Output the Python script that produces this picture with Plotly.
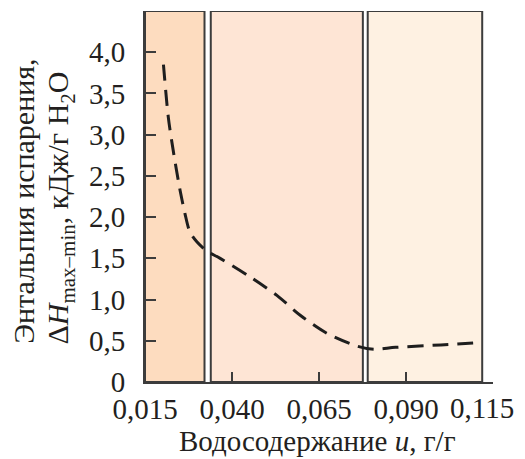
import plotly.graph_objects as go

# Water content u (g/g) and evaporation enthalpy ΔH (kJ/g H2O)
u = [0.0203, 0.0217, 0.0231, 0.0251, 0.0265, 0.0279, 0.0299, 0.0327, 0.0366,
     0.0452, 0.0529, 0.0596, 0.0673, 0.0759, 0.0807, 0.0870, 0.1000, 0.1113]
dH = [3.85, 3.21, 2.81, 2.32, 2.04, 1.82, 1.70, 1.59, 1.50,
      1.275, 1.05, 0.81, 0.59, 0.436, 0.396, 0.42, 0.45, 0.48]

# Moisture zones: (start, end, fill)
zone_start = [0.015, 0.0339, 0.0790]
zone_end = [0.0321, 0.0776, 0.1119]
zone_fill = ["#fddcbf", "#fee5d5", "#fef1e2"]

x_ticks = [0.015, 0.040, 0.065, 0.090, 0.115]
x_labels = ["0,015", "0,040", "0,065", "0,090", "0,115"]
y_ticks = [0, 0.5, 1.0, 1.5, 2.0, 2.5, 3.0, 3.5, 4.0]
y_labels = ["0", "0,5", "1,0", "1,5", "2,0", "2,5", "3,0", "3,5", "4,0"]

FONT = "Liberation Serif"
INK = "#231f20"
EDGE = "#3c3c3c"
FS = 29

# the last x label is drawn separately, nudged left so it stays inside the page
x_text = x_labels[:-1] + [""]

fig = go.Figure()
fig.add_trace(go.Scatter(
    x=u, y=dH, mode="lines",
    line=dict(color="#1e1e1e", width=3, dash="16px,9px", shape="spline", smoothing=0.8),
    showlegend=False, hoverinfo="skip",
))

for x0, x1, c in zip(zone_start, zone_end, zone_fill):
    fig.add_shape(type="rect", xref="x", yref="y", x0=x0, x1=x1, y0=0, y1=4.5,
                  fillcolor=c, line=dict(color=EDGE, width=2), layer="below")

fig.update_xaxes(
    range=[0.015, 0.115], tickvals=x_ticks, ticktext=x_text,
    ticks="inside", ticklen=10, tickwidth=2, tickcolor=EDGE,
    showline=True, linecolor=EDGE, linewidth=2, showgrid=False, zeroline=False,
    tickfont=dict(family=FONT, size=FS, color=INK), automargin=False,
)
fig.update_yaxes(
    range=[0, 4.5], tickvals=y_ticks, ticktext=y_labels,
    ticks="inside", ticklen=11, tickwidth=2, tickcolor=EDGE,
    showline=True, linecolor=EDGE, linewidth=2, showgrid=False, zeroline=False,
    tickfont=dict(family=FONT, size=FS, color=INK), ticklabelstandoff=12,
    automargin=False,
)

fig.add_annotation(text=x_labels[-1], xref="x", yref="paper", x=x_ticks[-1], y=0,
                   xanchor="center", yanchor="top", xshift=-11, yshift=-8, showarrow=False,
                   font=dict(family=FONT, size=FS, color=INK))
fig.add_annotation(text="Водосодержание <i>u</i>, г/г", xref="paper", yref="paper",
                   x=0.496, y=-0.159, xanchor="center", yanchor="middle", showarrow=False,
                   font=dict(family=FONT, size=FS, color=INK))
fig.add_annotation(text="Энтальпия испарения,", xref="paper", yref="paper",
                   x=-0.348, y=0.488, xanchor="center", yanchor="middle", showarrow=False,
                   textangle=-90, font=dict(family=FONT, size=30, color=INK))
fig.add_annotation(text="Δ<i>H</i><sub>max–min</sub>, кДж/г H<sub>2</sub>O", xref="paper", yref="paper",
                   x=-0.2445, y=0.47, xanchor="center", yanchor="middle", showarrow=False,
                   textangle=-90, font=dict(family=FONT, size=30, color=INK))

fig.update_layout(
    width=525, height=459,
    margin=dict(l=145, r=32, t=11, b=77),
    plot_bgcolor="white", paper_bgcolor="white",
)

fig.write_html("out.html")
